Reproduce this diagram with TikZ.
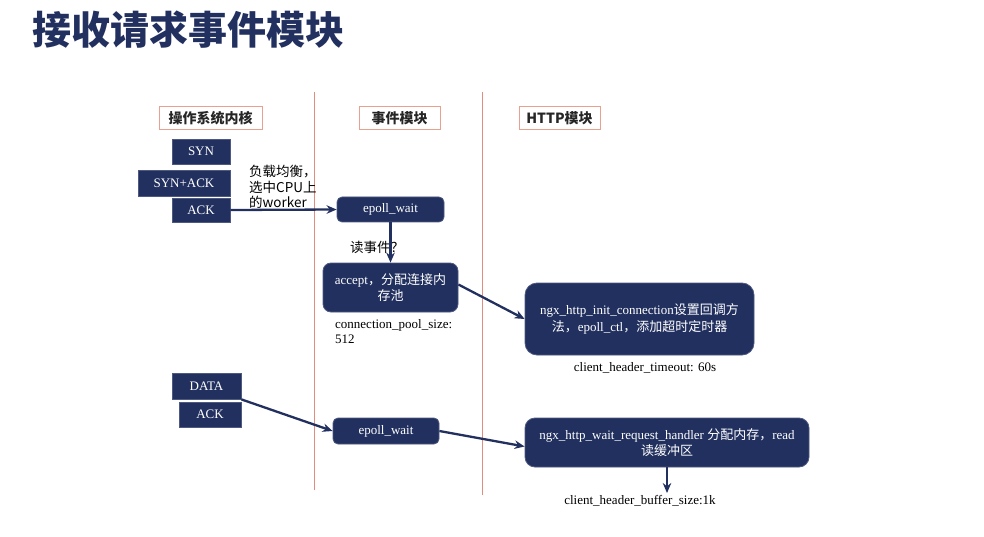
\documentclass[tikz,border=0pt]{standalone}
\usepackage{fontspec}
\setmainfont{Liberation Serif}
\newfontfamily\cjk{Noto Sans CJK SC}
\usetikzlibrary{arrows.meta}
\definecolor{navy}{HTML}{22305F}
\definecolor{sep}{HTML}{E28C7E}
\definecolor{hdr}{HTML}{E8A08F}
\tikzset{
  navybox/.style={fill=navy, draw=navy!80!white, line width=0.8pt, text=white, inner sep=0pt, align=center, font=\fontsize{13}{15}\selectfont},
  hdrbox/.style={draw=hdr, fill=white, line width=1pt, inner sep=0pt, font=\cjk\bfseries\fontsize{14}{15}\selectfont, text=black!85},
  conn/.style={draw=navy, line width=2.3pt, -{Stealth[length=10pt,width=8.5pt]}},
  lbl/.style={inner sep=0pt, font=\fontsize{13}{15}\selectfont, text=black},
  sepline/.style={draw=sep, line width=0.9pt},
}
\begin{document}
\begin{tikzpicture}[x=1pt,y=-1pt]
\useasboundingbox (0,0) rectangle (984,537);
% title
\node[anchor=west, inner sep=0pt, text=navy, font=\cjk\bfseries\fontsize{39}{42}\selectfont] (title) at (32,30) {接收请求事件模块};
% separators
\coordinate (s1a) at (314,92); \coordinate (s1b) at (314,490);
\coordinate (s2a) at (482,92); \coordinate (s2b) at (482,495);
\draw[sepline] (s1a) -- (s1b);
\draw[sepline] (s2a) -- (s2b);
% headers
\node[hdrbox, minimum width=103pt, minimum height=23pt] (h1) at (210.5,118.5) {操作系统内核};
\node[hdrbox, minimum width=81pt, minimum height=23pt] (h2) at (399.5,118.5) {事件模块};
\node[hdrbox, minimum width=81pt, minimum height=23pt] (h3) at (559.5,118.5) {HTTP模块};
% kernel boxes
\node[navybox, minimum width=58pt, minimum height=25pt] (syn) at (201,151.5) {SYN};
\node[navybox, minimum width=92pt, minimum height=26pt] (synack) at (184,183) {SYN+ACK};
\node[navybox, minimum width=58pt, minimum height=24pt] (ack) at (201,210) {ACK};
\node[navybox, minimum width=69pt, minimum height=26pt] (data) at (206.5,386) {DATA};
\node[navybox, minimum width=62pt, minimum height=25pt] (ack2) at (210,414.5) {ACK};
% event module
\node[navybox, rounded corners=5pt, minimum width=107pt, minimum height=25pt] (ew1) at (390.5,209.5) {epoll\_wait};
\node[navybox, rounded corners=8pt, minimum width=135pt, minimum height=49pt] (acc) at (390.5,287.5) {accept{\cjk ，分配连接内}\\[1pt]{\cjk 存池}};
\node[navybox, rounded corners=5pt, minimum width=106pt, minimum height=26pt] (ew2) at (386,431) {epoll\_wait};
% http module
\node[navybox, rounded corners=12pt, minimum width=229pt, minimum height=72pt] (init) at (639.5,319) {ngx\_http\_init\_connection{\cjk 设置回调方}\\[2pt]{\cjk 法，}epoll\_ctl{\cjk ，添加超时定时器}};
\node[navybox, rounded corners=10pt, minimum width=284pt, minimum height=49pt] (wait) at (667,442.5) {ngx\_http\_wait\_request\_handler {\cjk 分配内存，}read\\[1pt]{\cjk 读缓冲区}};
% labels
\node[lbl, anchor=north west, align=left, font=\cjk\fontsize{13.5}{15.5}\selectfont] (lb) at (249,165) {负载均衡，\\选中CPU上\\的worker};
\node[lbl, anchor=west, font=\cjk\fontsize{13.5}{15}\selectfont] (rd) at (350,247) {读事件？};
\node[lbl, anchor=north west, align=left] (cps) at (335,319) {connection\_pool\_size:\\512};
\node[lbl] (cht) at (645,368) {client\_header\_timeout: 60s};
\node[lbl] (chb) at (640,501) {client\_header\_buffer\_size:1k};
% connectors
\draw[conn] (ack.east) -- (ew1.west);
\draw[conn] (ew1.south) -- (acc.north);
\draw[conn] (acc.east) ++(0,-3) coordinate (acce) -- (init.west);
\draw[conn] (data.south east) -- (ew2.west);
\draw[conn] (ew2.east) -- ([yshift=-4pt]wait.west);
\coordinate (wb) at (667,493);
\draw[conn] (wait.south) -- (wb);
\end{tikzpicture}
\end{document}
